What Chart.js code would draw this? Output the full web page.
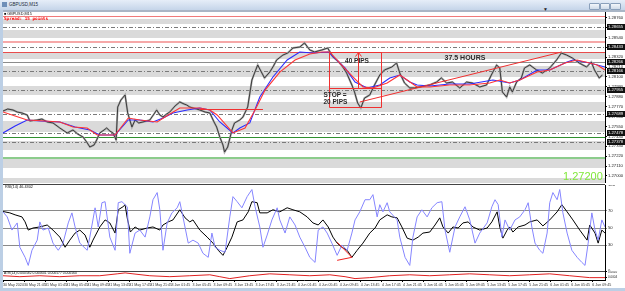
<!DOCTYPE html>
<html>
<head>
<meta charset="utf-8">
<script src="https://cdn.jsdelivr.net/npm/chart.js@4.4.1/dist/chart.umd.min.js"></script>
<style>
  body { margin: 0; width: 625px; height: 291px; overflow: hidden; background: #fff; position: relative; font-family: "Liberation Sans", sans-serif; }
  canvas { position: absolute; left: 0; }
  .frame { position: absolute; background: #bccfe5; }
  .txt { position: absolute; white-space: nowrap; line-height: 1; }
  .btn { position: absolute; top: 3px; height: 5px; border: 1px solid #8aa0bb; border-radius: 1px; background: linear-gradient(#f3f6fa, #cfdbe9); }
</style>
</head>
<body>
<canvas id="main" width="625" height="171" style="top:12px"></canvas>
<canvas id="rsi" width="625" height="86" style="top:185px"></canvas>
<canvas id="osc" width="625" height="17" style="top:271px"></canvas>

<!-- window chrome -->
<div class="frame" style="left:0;top:0;width:625px;height:10px;background:linear-gradient(#e6eef8,#c5d5e9)"></div>
<div class="frame" style="left:2px;top:2px;width:5px;height:5px;background:#6f8fb8"></div>
<div class="txt" style="left:9px;top:3px;font-size:4.5px;color:#1d2a3a">GBPUSD,M15</div>
<div class="btn" style="left:589px;width:9px"></div>
<div class="btn" style="left:600px;width:8px"></div>
<div class="btn" style="left:610px;width:9px"></div>
<div class="frame" style="left:0;top:10px;width:625px;height:2px;background:#a9b6c6"></div>
<div class="frame" style="left:0;top:10px;width:3px;height:281px"></div>
<div class="frame" style="left:0;top:288px;width:625px;height:3px"></div>
<div class="frame" style="left:3px;top:184px;width:602px;height:1px;background:#444"></div>
<div class="frame" style="left:3px;top:271px;width:602px;height:1px;background:#444"></div>

<div class="txt" style="left:543px;top:7px;font-size:5px;color:#222">&#9660;</div>
<div class="txt" style="left:4px;top:12.5px;font-size:3.8px;color:#111">&#9632; GBPUSD,M15</div>
<div class="txt" style="left:4px;top:16.5px;font-size:4.3px;font-family:'DejaVu Sans Mono',monospace;font-weight:bold;color:#f00">Spread: 15 points</div>
<div class="txt" style="left:563px;top:171px;font-size:11px;color:#80e83a">1.27200</div>
<div class="txt" style="left:5px;top:186px;font-size:3.8px;color:#111">RSI(14) 46.4302</div>
<div class="txt" style="left:4px;top:272px;font-size:3.4px;color:#111">ATR(14) 0.000582 0.000601 0.000577 0.000560</div>

<script>
// x axis: trading hours since the first bar (M15 chart, labels every 4 hours)
const dateTickHours = [0, 4, 8, 12, 16, 20, 24, 28, 32, 36, 40, 44, 48, 52, 56, 60, 64, 68, 72, 76, 80, 84, 88, 92, 96, 100, 104, 108, 112];
const dateLabels = ['30 May 2024', '30 May 21:45', '31 May 01:45', '31 May 05:45', '31 May 09:45', '31 May 13:45', '31 May 17:45', '31 May 21:45',
  '3 Jun 01:45', '3 Jun 05:45', '3 Jun 09:45', '3 Jun 13:45', '3 Jun 17:45', '3 Jun 21:45', '4 Jun 01:45', '4 Jun 05:45', '4 Jun 09:45',
  '4 Jun 13:45', '4 Jun 17:45', '4 Jun 21:45', '5 Jun 01:45', '5 Jun 05:45', '5 Jun 09:45', '5 Jun 13:45', '5 Jun 17:45', '5 Jun 21:45',
  '6 Jun 01:45', '6 Jun 05:45', '6 Jun 09:45'];
const lastHour = 114.4;

// price (close)
const priceHours = [0, 0.9, 1.9, 2.7, 3.6, 4.6, 5.1, 6.5, 7.4, 8.4, 9.5, 10.8, 12.2, 13.3, 14.2, 15.2, 15.9, 16.5, 17.3, 17.8,
  18.4, 19.2, 19.7, 20.3, 20.9, 21.5, 21.8, 22.4, 23.2, 23.7, 24.5, 25.1, 25.8, 26.6, 27.3, 27.9, 28.7, 29.2, 29.8, 30.4,
  31.1, 31.7, 32.7, 33.6, 34.4, 34.9, 35.5, 36.1, 36.8, 37.4, 38.4, 39.3, 40.1, 40.6, 41.2, 41.8, 42.1, 42.7, 43.5, 44.0,
  45.0, 45.6, 46.5, 47.3, 47.8, 48.4, 49.2, 49.7, 50.7, 51.4, 52.0, 53.2, 54.1, 55.1, 56.4, 57.3, 58.3, 59.2, 60.6, 61.7,
  62.7, 63.4, 64.0, 64.7, 65.3, 66.3, 66.8, 67.4, 68.0, 68.7, 69.7, 70.6, 71.6, 72.5, 73.9, 74.8, 75.4, 76.3, 77.3, 78.2,
  79.2, 80.1, 81.1, 82.4, 83.3, 84.3, 85.4, 86.8, 88.1, 89.2, 90.6, 91.9, 92.8, 93.8, 94.4, 94.9, 95.7, 96.3, 96.8, 97.6,
  98.5, 99.1, 100.1, 101.4, 102.5, 103.9, 105.2, 106.1, 107.1, 108.2, 109.5, 110.9, 111.8, 112.4, 113.3, 113.9];
const priceClose = [1.27722, 1.27744, 1.27733, 1.27711, 1.27700, 1.27678, 1.27611, 1.27622, 1.27633, 1.27600,
  1.27589, 1.27533, 1.27478, 1.27511, 1.27466, 1.27433, 1.27378, 1.27322, 1.27344, 1.27400,
  1.27478, 1.27511, 1.27533, 1.27500, 1.27478, 1.27400, 1.27766, 1.27844, 1.27900, 1.27700,
  1.27544, 1.27622, 1.27589, 1.27600, 1.27611, 1.27622, 1.27689, 1.27733, 1.27678, 1.27655,
  1.27689, 1.27711, 1.27778, 1.27822, 1.27800, 1.27789, 1.27766, 1.27755, 1.27744, 1.27733,
  1.27711, 1.27700, 1.27600, 1.27544, 1.27433, 1.27344, 1.27266, 1.27322, 1.27511, 1.27589,
  1.27622, 1.27655, 1.27766, 1.28066, 1.28144, 1.28233, 1.28144, 1.28089, 1.28155, 1.28222,
  1.28289, 1.28344, 1.28366, 1.28422, 1.28433, 1.28478, 1.28400, 1.28378, 1.28400, 1.28422,
  1.28322, 1.28289, 1.28255, 1.28200, 1.28144, 1.28011, 1.27933, 1.27811, 1.27755, 1.27866,
  1.27900, 1.28011, 1.28122, 1.28178, 1.28211, 1.28255, 1.28144, 1.28033, 1.27978, 1.27978,
  1.27989, 1.28000, 1.28011, 1.28044, 1.28089, 1.28033, 1.28044, 1.27978, 1.28044, 1.28033,
  1.27989, 1.28011, 1.28122, 1.28233, 1.28200, 1.27933, 1.27878, 1.27989, 1.27933, 1.28044,
  1.28089, 1.28200, 1.28233, 1.28178, 1.28144, 1.28200, 1.28289, 1.28366, 1.28344, 1.28311,
  1.28255, 1.28211, 1.28266, 1.28178, 1.28089, 1.28122];

// moving averages
const fastMaHours = [0, 2.3, 4.6, 7.0, 10.8, 13.7, 16.5, 18.4, 21.3, 23.8, 26.0, 28.5, 30.4, 32.3, 35.0, 37.4, 39.3, 41.2, 43.7, 45.0,
  46.9, 48.8, 51.3, 54.0, 56.4, 58.9, 61.8, 65.0, 66.9, 69.2, 71.6, 73.5, 75.4, 77.3, 78.7, 81.1, 84.9, 88.7, 93.1, 96.3,
  98.2, 101.5, 103.9, 107.2, 108.3, 111.5, 114.4];
const fastMa = [1.27478, 1.27555, 1.27622, 1.27611, 1.27600, 1.27544, 1.27511, 1.27455, 1.27455, 1.27622,
  1.27622, 1.27600, 1.27644, 1.27700, 1.27733, 1.27755, 1.27733, 1.27600, 1.27478, 1.27533,
  1.27589, 1.27878, 1.28100, 1.28289, 1.28378, 1.28366, 1.28378, 1.28200, 1.28044, 1.27978,
  1.28011, 1.28089, 1.28122, 1.28044, 1.28011, 1.28000, 1.28022, 1.28022, 1.28066, 1.28033,
  1.28066, 1.28178, 1.28178, 1.28266, 1.28289, 1.28255, 1.28211];
const slowMaHours = [0, 2.3, 4.6, 8.0, 10.8, 13.3, 16.0, 17.9, 21.3, 23.8, 26.0, 29.3, 31.7, 33.6, 37.4, 39.3, 40.7, 43.7, 46.0, 47.9,
  49.8, 52.6, 55.5, 58.3, 60.6, 62.1, 64.0, 66.5, 68.4, 70.3, 73.0, 75.4, 76.8, 78.7, 81.1, 84.9, 88.7, 92.5, 94.4, 96.3,
  98.2, 101.5, 103.9, 106.8, 109.1, 111.5, 112.9, 114.4];
const slowMa = [1.27711, 1.27666, 1.27622, 1.27611, 1.27600, 1.27544, 1.27533, 1.27455, 1.27455, 1.27644,
  1.27622, 1.27600, 1.27689, 1.27755, 1.27755, 1.27733, 1.27678, 1.27478, 1.27533, 1.27733,
  1.27955, 1.28155, 1.28289, 1.28355, 1.28378, 1.28378, 1.28255, 1.28100, 1.27989, 1.27978,
  1.28033, 1.28122, 1.28066, 1.27989, 1.27989, 1.28011, 1.28011, 1.28033, 1.28066, 1.28033,
  1.28066, 1.28155, 1.28178, 1.28255, 1.28289, 1.28255, 1.28233, 1.28178];

// price axis and drawn objects
const priceMin = 1.26922, priceMax = 1.28822;
const priceTicks = [1.28760, 1.28650, 1.28540, 1.28430, 1.28320, 1.28210, 1.28100, 1.27990, 1.27880,
  1.27770, 1.27660, 1.27550, 1.27440, 1.27330, 1.27220, 1.27110, 1.27000];
const zoneTops = [1.28744, 1.28622, 1.28378, 1.28222, 1.28000, 1.27822, 1.27611, 1.27389, 1.27189, 1.26978];
const zoneBottoms = [1.28689, 1.28533, 1.28300, 1.28100, 1.27900, 1.27711, 1.27489, 1.27289, 1.27089, 1.26922];
const dashLevels = [1.28655, 1.28433, 1.28166, 1.27955, 1.27689, 1.27478, 1.27378];
const greyLevel = 1.28266;
const askLevel = 1.28778;
const pinkLevel = 1.28489;
const redLevel = 1.28378;
const greenLevels = [1.27433, 1.27200];
const tradeHours = [61.9, 71.8];
const tradeLevels = [1.28378, 1.27978, 1.27766]; // target, entry, stop
const arrowHour = 67.4;
const trendHours = [67.8, 106.2];
const trendPrices = [1.27822, 1.28378];
const supportHours = [37.4, 49.4];
const supportPrice = 1.27744;
const noteTexts = ['40 PIPS', 'STOP =', '20 PIPS', '37.5 HOURS'];
const noteHours = [65.0, 60.9, 60.9, 83.9];
const notePrices = [1.28277, 1.27900, 1.27822, 1.28311];

// RSI panel
const rsiLevels = [30, 50, 70];
const rsiHours = [0, 1.3, 2.3, 3.6, 4.2, 4.8, 5.7, 7.0, 8.4, 9.5, 10.8, 11.8, 12.7, 13.7, 14.6, 15.6, 16.5, 17.1, 18.4, 19.4,
  20.3, 21.3, 21.9, 22.8, 23.2, 23.6, 24.2, 25.1, 26.0, 27.4, 28.5, 29.8, 30.4, 31.4, 32.3, 33.6, 34.6, 35.5, 36.1, 37.4,
  38.8, 39.9, 40.9, 41.8, 42.6, 43.5, 44.5, 45.6, 46.6, 47.3, 48.3, 48.8, 50.2, 51.3, 52.6, 54.0, 55.1, 56.4, 57.8, 58.9,
  59.9, 60.8, 61.8, 62.7, 63.5, 64.4, 65.4, 66.3, 67.3, 68.4, 69.7, 70.7, 71.6, 73.0, 73.9, 74.9, 75.8, 76.8, 77.9, 78.9,
  79.8, 81.1, 82.1, 83.0, 83.6, 84.6, 85.5, 86.5, 87.4, 88.4, 89.3, 90.6, 92.0, 92.9, 93.9, 94.4, 95.0, 95.8, 96.3, 96.9,
  97.9, 99.2, 100.1, 101.5, 102.6, 103.9, 105.3, 106.2, 107.2, 108.3, 109.6, 111.0, 111.5, 112.5, 113.1, 113.8, 114.4];
const rsiSlow = [69.2, 67.6, 65.3, 62.9, 57.1, 47.6, 50.0, 51.2, 53.5, 47.6, 39.4, 27.6, 35.9, 44.1, 47.6, 41.8, 27.6, 35.9, 51.2, 59.4,
  55.9, 44.1, 71.2, 74.7, 77.1, 61.8, 45.3, 51.2, 47.6, 50.0, 51.2, 47.6, 53.5, 57.1, 59.4, 71.2, 61.8, 57.1, 59.4, 47.6,
  39.4, 32.4, 24.1, 18.2, 27.6, 39.4, 57.1, 59.4, 68.8, 80.6, 79.4, 67.6, 67.6, 71.2, 68.8, 73.5, 71.2, 68.8, 62.9, 55.9,
  53.5, 59.4, 51.2, 39.4, 32.4, 27.6, 24.1, 15.9, 24.1, 32.4, 44.1, 50.0, 59.4, 65.3, 62.9, 61.8, 51.2, 38.2, 35.9, 39.4,
  44.1, 45.3, 53.5, 61.8, 51.2, 44.1, 51.2, 50.0, 55.9, 57.1, 51.2, 47.6, 50.0, 57.1, 68.8, 51.2, 38.2, 47.6, 51.2, 45.3,
  51.2, 53.5, 57.1, 59.4, 52.4, 59.4, 68.8, 77.1, 68.8, 59.4, 47.6, 35.9, 53.5, 44.1, 32.4, 47.6, 44.1];
const rsiFastHours = [0, 0.8, 1.7, 2.7, 3.2, 4.2, 4.8, 5.5, 6.5, 7.0, 7.6, 8.6, 9.5, 10.5, 11.4, 12.4, 13.1, 13.7, 14.6, 16.0,
  16.5, 17.5, 18.1, 18.8, 19.4, 20.3, 21.3, 21.9, 22.6, 23.6, 24.1, 25.1, 26.0, 27.0, 27.9, 28.5, 29.3, 29.8, 30.4, 31.2,
  32.1, 33.1, 33.6, 34.2, 35.2, 36.1, 37.1, 38.0, 39.0, 39.7, 40.3, 41.2, 42.2, 43.1, 43.7, 44.5, 45.4, 46.4, 47.3, 47.9,
  48.8, 49.4, 50.2, 51.1, 52.1, 52.6, 53.6, 54.5, 55.5, 56.4, 57.4, 58.3, 59.3, 59.9, 60.8, 61.6, 62.5, 63.5, 64.4, 65.4,
  66.3, 66.9, 67.8, 68.8, 69.7, 70.3, 71.1, 71.6, 72.2, 73.0, 73.5, 74.9, 75.4, 76.4, 77.3, 77.9, 78.7, 79.6, 80.6, 81.5,
  82.5, 83.4, 84.0, 84.9, 85.9, 86.8, 87.8, 88.7, 89.7, 90.6, 92.0, 92.9, 93.5, 94.1, 94.8, 95.4, 96.3, 97.3, 98.2, 99.2,
  99.8, 100.5, 101.1, 102.0, 102.6, 103.4, 103.9, 104.5, 105.3, 105.8, 106.4, 107.2, 108.1, 109.1, 110.0, 110.6, 111.2, 111.9, 112.5, 113.1,
  113.8, 114.4];
const rsiFast = [68.8, 62.9, 47.6, 55.9, 27.6, 15.9, 6.5, 24.1, 35.9, 57.1, 47.6, 50.0, 32.4, 24.1, 32.4, 55.9, 67.6, 51.2, 32.4, 24.1,
  39.4, 73.5, 51.2, 79.4, 80.6, 39.4, 24.1, 79.4, 80.6, 74.7, 20.6, 44.1, 47.6, 39.4, 62.9, 82.9, 91.2, 71.2, 24.1, 55.9,
  67.6, 73.5, 80.6, 62.9, 32.4, 35.9, 32.4, 20.6, 15.9, 44.1, 27.6, 24.1, 21.8, 62.9, 86.5, 80.6, 73.5, 86.5, 94.7, 74.7,
  51.2, 27.6, 41.8, 59.4, 73.5, 59.4, 44.1, 62.9, 53.5, 39.4, 27.6, 15.9, 10.0, 47.6, 51.2, 44.1, 32.4, 18.2, 30.0, 24.1,
  44.1, 59.4, 68.8, 82.9, 82.9, 88.8, 62.9, 77.1, 68.8, 79.4, 68.8, 59.4, 39.4, 15.9, 6.5, 39.4, 62.9, 71.2, 62.9, 73.5,
  79.4, 80.6, 47.6, 21.8, 51.2, 62.9, 74.7, 59.4, 32.4, 44.1, 55.9, 74.7, 82.9, 77.1, 39.4, 59.4, 47.6, 59.4, 62.9, 71.2,
  79.4, 51.2, 32.4, 24.1, 20.6, 44.1, 79.4, 91.2, 82.9, 94.7, 67.6, 44.1, 24.1, 15.9, 10.0, 6.5, 32.4, 67.6, 47.6, 35.9,
  59.4, 51.2];
const divergenceHours = [63.5, 66.3, 63.5];
const divergenceValues = [33.5, 15.9, 12.4];

// bottom oscillator panel
const oscHours = [0, 3.2, 7.0, 10.8, 14.6, 18.4, 21.7, 23.2, 24.7, 27.9, 31.7, 35.5, 39.3, 41.2, 43.1, 46.9, 50.7, 54.5, 58.3, 62.1,
  65.0, 66.9, 69.7, 73.5, 77.3, 81.1, 84.9, 88.7, 92.5, 96.3, 100.1, 103.9, 107.7, 111.5, 114.4];
const oscValues = [0.0006, 0.0005, 0.0006, 0.0005, 0.0006, 0.0006, 0.0008, 0.0009, 0.0008, 0.0006, 0.0005, 0.0006, 0.0007, 0.0005, 0.0003,
  0.0006, 0.0008, 0.0007, 0.0006, 0.0007, 0.0005, 0.0003, 0.0004, 0.0006, 0.0007, 0.0006, 0.0007, 0.0008, 0.0007, 0.0006,
  0.0007, 0.0008, 0.0006, 0.0004, 0.0004];
const oscTicks = [0.0004, 0.0007, 0.0010];

const pts = (xs, ys) => xs.map((x, i) => ({ x: x, y: ys[i] }));

// shared axis helpers
const hourAxis = (show) => ({
  type: 'linear', min: 0, max: lastHour, display: show,
  afterBuildTicks: s => { s.ticks = dateTickHours.map(v => ({ value: v })); },
  afterFit: s => { s.paddingLeft = 0; s.paddingRight = 0; if (show) s.height = 8; },
  grid: { drawOnChartArea: false, drawTicks: true, tickLength: 2, color: '#000' },
  border: { display: true, color: '#000' },
  ticks: {
    autoSkip: false, maxRotation: 0, minRotation: 0, align: 'start', padding: 0.5,
    font: { size: 3.6, family: 'Liberation Sans' }, color: '#333',
    callback: v => { const i = dateTickHours.indexOf(v); return i < 0 ? '' : dateLabels[i]; }
  }
});
const rightAxis = (extra) => Object.assign({
  position: 'right',
  afterFit: s => { s.width = 20; s.paddingTop = 0; s.paddingBottom = 0; },
  grid: { drawOnChartArea: false, drawTicks: true, tickLength: 2, color: '#000' },
  border: { display: true, color: '#000' }
}, extra);
const baseOptions = (scales) => ({
  responsive: false, animation: false, devicePixelRatio: 1,
  layout: { padding: { left: 3, right: 0, top: 0, bottom: 0 } },
  plugins: { legend: { display: false }, tooltip: { enabled: false } },
  elements: { point: { radius: 0 }, line: { tension: 0 } },
  scales: scales
});

function hLine(ctx, a, py, color, width, dash) {
  ctx.strokeStyle = color; ctx.lineWidth = width; ctx.setLineDash(dash || []);
  const yy = width % 2 ? Math.round(py) + 0.5 : Math.round(py);
  ctx.beginPath(); ctx.moveTo(a.left, yy); ctx.lineTo(a.right, yy); ctx.stroke();
}

const mainDecor = {
  id: 'mainDecor',
  beforeDatasetsDraw(chart) {
    const { ctx, chartArea: a, scales: { x, y } } = chart;
    ctx.save();
    ctx.beginPath(); ctx.rect(a.left, a.top, a.right - a.left, a.bottom - a.top); ctx.clip();
    ctx.fillStyle = '#dadada';
    zoneTops.forEach((t, i) => {
      const y1 = Math.round(y.getPixelForValue(t)), y2 = Math.round(y.getPixelForValue(zoneBottoms[i]));
      ctx.fillRect(a.left, y1, a.right - a.left, y2 - y1);
    });
    dashLevels.forEach(v => hLine(ctx, a, y.getPixelForValue(v), '#7a7a7a', 1, [4, 2, 1, 2]));
    hLine(ctx, a, y.getPixelForValue(greyLevel), '#8c8c8c', 1);
    hLine(ctx, a, y.getPixelForValue(askLevel), '#f07a7a', 1);
    hLine(ctx, a, y.getPixelForValue(pinkLevel), '#f6a8a8', 2);
    hLine(ctx, a, y.getPixelForValue(redLevel), '#e84c4c', 1);
    hLine(ctx, a, y.getPixelForValue(greenLevels[0]), '#2f8f2f', 1);
    hLine(ctx, a, y.getPixelForValue(greenLevels[1]), '#8ccc8c', 2);
    ctx.restore();
  },
  afterDatasetsDraw(chart) {
    const { ctx, chartArea: a, scales: { x, y } } = chart;
    ctx.save();
    ctx.strokeStyle = '#f03030'; ctx.lineWidth = 1; ctx.setLineDash([]);
    const xl = Math.round(x.getPixelForValue(tradeHours[0])) + 0.5;
    const xr = Math.round(x.getPixelForValue(tradeHours[1])) + 0.5;
    const ys = tradeLevels.map(v => Math.round(y.getPixelForValue(v)) + 0.5);
    ctx.beginPath();
    ys.forEach(yy => { ctx.moveTo(xl, yy); ctx.lineTo(xr, yy); });
    ctx.moveTo(xl, ys[0]); ctx.lineTo(xl, ys[2]);
    ctx.moveTo(xr, ys[0]); ctx.lineTo(xr, ys[2]);
    const xa = Math.round(x.getPixelForValue(arrowHour)) + 0.5;
    ctx.moveTo(xa, ys[1]); ctx.lineTo(xa, ys[0]);
    ctx.moveTo(xa - 3, ys[0] + 4); ctx.lineTo(xa, ys[0]); ctx.lineTo(xa + 3, ys[0] + 4);
    ctx.moveTo(x.getPixelForValue(trendHours[0]), y.getPixelForValue(trendPrices[0]));
    ctx.lineTo(x.getPixelForValue(trendHours[1]), y.getPixelForValue(trendPrices[1]));
    const sy = Math.round(y.getPixelForValue(supportPrice)) + 0.5;
    ctx.moveTo(x.getPixelForValue(supportHours[0]), sy); ctx.lineTo(x.getPixelForValue(supportHours[1]), sy);
    ctx.stroke();
    ctx.fillStyle = '#2a2a2a';
    ctx.textBaseline = 'middle'; ctx.textAlign = 'left';
    noteTexts.forEach((t, i) => {
      ctx.font = (i === 3 ? 'bold 7px' : 'bold 6.5px') + ' "Liberation Sans"';
      ctx.fillText(t, x.getPixelForValue(noteHours[i]), y.getPixelForValue(notePrices[i]));
    });
    ctx.restore();
  },
  afterDraw(chart) {
    const { ctx, chartArea: a, scales: { y } } = chart;
    ctx.save();
    ctx.font = '4.2px "Liberation Sans"'; ctx.textBaseline = 'middle'; ctx.textAlign = 'left';
    dashLevels.concat([greyLevel]).forEach(v => {
      const py = Math.round(y.getPixelForValue(v));
      ctx.fillStyle = '#111'; ctx.fillRect(a.right + 2, py - 3, 18, 6);
      ctx.fillStyle = '#fff'; ctx.fillText(v.toFixed(5), a.right + 3, py + 0.3);
    });
    ctx.restore();
  }
};

const rsiDecor = {
  id: 'rsiDecor',
  afterDatasetsDraw(chart) {
    const { ctx, scales: { x, y } } = chart;
    ctx.save();
    ctx.strokeStyle = '#f02020'; ctx.lineWidth = 1;
    ctx.beginPath();
    divergenceHours.forEach((h, i) => {
      const px = x.getPixelForValue(h), py = y.getPixelForValue(divergenceValues[i]);
      if (i === 0) ctx.moveTo(px, py); else ctx.lineTo(px, py);
    });
    ctx.stroke();
    ctx.restore();
  }
};

new Chart(document.getElementById('main'), {
  type: 'line',
  data: {
    datasets: [
      { data: pts(priceHours, priceClose), borderColor: '#ababab', borderWidth: 2, order: 4 },
      { data: pts(priceHours, priceClose), borderColor: '#3c3c3c', borderWidth: 1, order: 3 },
      { data: pts(fastMaHours, fastMa), borderColor: '#2b2bff', borderWidth: 1.1, order: 2 },
      { data: pts(slowMaHours, slowMa), borderColor: '#ff3535', borderWidth: 1.1, order: 1 }
    ]
  },
  options: baseOptions({
    x: hourAxis(false),
    y: rightAxis({
      min: priceMin, max: priceMax,
      afterBuildTicks: s => { s.ticks = priceTicks.map(v => ({ value: v })); },
      ticks: { padding: 1, font: { size: 4.2, family: 'Liberation Sans' }, color: '#222', callback: v => v.toFixed(5) }
    })
  }),
  plugins: [mainDecor]
});

new Chart(document.getElementById('rsi'), {
  type: 'line',
  data: {
    datasets: [
      { data: pts(rsiFastHours, rsiFast), borderColor: '#8585ff', borderWidth: 1 },
      { data: pts(rsiHours, rsiSlow), borderColor: '#000', borderWidth: 1 }
    ]
  },
  options: baseOptions({
    x: hourAxis(false),
    y: rightAxis({
      min: 0, max: 100,
      afterBuildTicks: s => { s.ticks = [0, 30, 50, 70, 100].map(v => ({ value: v })); },
      grid: {
        drawOnChartArea: true, drawTicks: true, tickLength: 2,
        color: c => rsiLevels.includes(c.tick.value) ? '#8a8a8a' : 'rgba(0,0,0,0)'
      },
      ticks: { padding: 1, font: { size: 4.2, family: 'Liberation Sans' }, color: '#222' }
    })
  }),
  plugins: [rsiDecor]
});

new Chart(document.getElementById('osc'), {
  type: 'line',
  data: {
    datasets: [
      { data: pts(oscHours, oscValues), borderColor: '#e02020', borderWidth: 1 }
    ]
  },
  options: baseOptions({
    x: hourAxis(true),
    y: rightAxis({
      min: 0.00015, max: 0.0011,
      afterBuildTicks: s => { s.ticks = oscTicks.map(v => ({ value: v })); },
      ticks: { padding: 1, font: { size: 3, family: 'Liberation Sans' }, color: '#222', callback: v => v.toFixed(4) }
    })
  })
});
</script>
</body>
</html>
